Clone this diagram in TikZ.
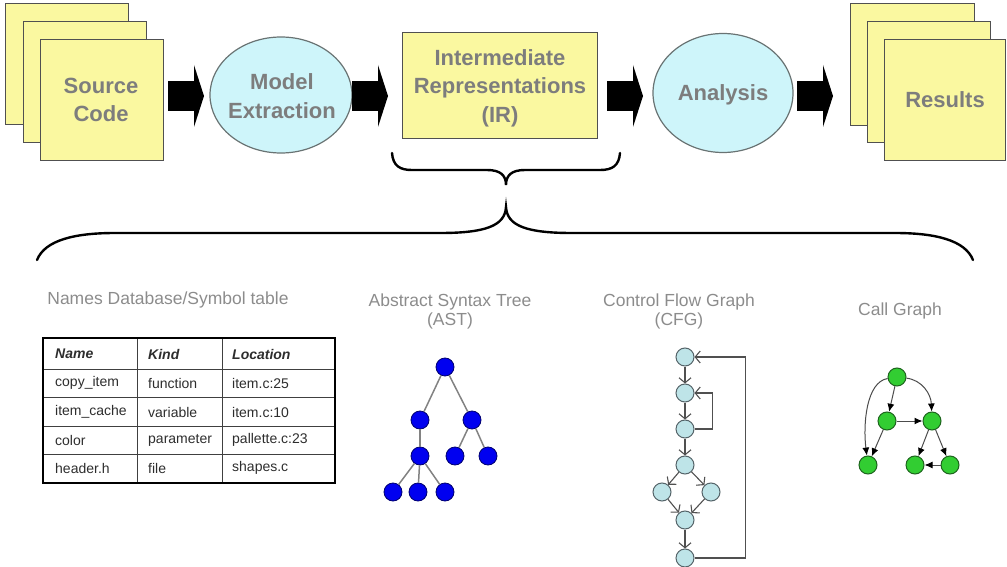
\documentclass[tikz,border=0pt]{standalone}
\usepackage{fontspec}
\setmainfont{Liberation Sans}
\usetikzlibrary{shapes.geometric,arrows.meta}

\definecolor{docfill}{RGB}{250,248,160}
\definecolor{docline}{RGB}{80,80,80}
\definecolor{procfill}{RGB}{206,245,250}
\definecolor{procline}{RGB}{105,115,115}
\definecolor{stagetext}{RGB}{125,125,125}
\definecolor{labeltext}{RGB}{140,140,140}
\definecolor{tabletext}{RGB}{45,45,45}
\definecolor{astfill}{RGB}{0,0,240}
\definecolor{astline}{RGB}{0,0,110}
\definecolor{astedge}{RGB}{130,130,130}
\definecolor{cfgfill}{RGB}{190,228,232}
\definecolor{cfgline}{RGB}{85,100,105}
\definecolor{cfgedge}{RGB}{80,80,80}
\definecolor{cgfill}{RGB}{50,205,50}
\definecolor{cgline}{RGB}{30,100,30}

\begin{document}
\begin{tikzpicture}[x=1pt,y=-1pt,
  doc/.style={draw=docline, fill=docfill, line width=1.4pt, inner sep=0pt,
    anchor=north west, minimum width=123pt, minimum height=121pt},
  proc/.style={ellipse, draw=procline, fill=procfill, line width=1.2pt, inner sep=0pt},
  stage/.style={text=stagetext, font=\fontsize{22}{28.5}\selectfont\bfseries, align=center},
  viewlabel/.style={text=labeltext, font=\fontsize{17.5}{19}\selectfont, align=center},
  cell/.style={text=tabletext, font=\fontsize{14}{15}\selectfont, anchor=west, inner sep=0pt},
  headcell/.style={cell, font=\fontsize{14}{15}\selectfont\bfseries\itshape},
  brace/.style={line width=2.4pt, line cap=round},
  astnode/.style={circle, fill=astfill, draw=astline, line width=0.8pt, minimum size=18pt, inner sep=0pt},
  astlink/.style={draw=astedge, line width=1.5pt},
  cfgnode/.style={circle, fill=cfgfill, draw=cfgline, line width=1pt, minimum size=18pt, inner sep=0pt},
  cfglink/.style={draw=cfgedge, line width=1.1pt, -{Straight Barb[length=5pt,width=12pt]}},
  cgnode/.style={circle, fill=cgfill, draw=cgline, line width=1pt, minimum size=18pt, inner sep=0pt},
  cglink/.style={draw=black!70, line width=1pt, -{Latex[length=8pt,width=7pt,color=black]}},
  blockarrow/.pic={
    \fill[black] (0,-15) rectangle (27,15);
    \fill[black] (26,-31) -- (36,0) -- (26,31) -- cycle;
  }
]
\useasboundingbox (0,0) rectangle (1007,567);

% ---------- pipeline ----------
\node[doc] (src1) at (5,3) {};
\node[doc] (src2) at (23,21) {};
\node[doc] (src3) at (40,39) {};
\node[stage] (srctext) at (101,100) {Source\\Code};

\pic at (168,96) {blockarrow};

\node[proc, minimum width=142pt, minimum height=116pt] (extract) at (281,95) {};
\node[stage] (extracttext) at (282,96) {Model\\Extraction};

\pic at (352,96) {blockarrow};

\node[doc, minimum width=195pt, minimum height=106pt] (ir) at (402,32) {};
\node[stage] (irtext) at (500,88) {Intermediate\\Representations\\(IR)};

\pic at (607,96) {blockarrow};

\node[proc, minimum width=140pt, minimum height=119pt] (analysis) at (723,93) {};
\node[stage] (analysistext) at (723,95) {Analysis};

\pic at (797,96) {blockarrow};

\node[doc, minimum width=124pt, minimum height=122pt] (res1) at (850,3) {};
\node[doc] (res2) at (867,21) {};
\node[doc, minimum width=121pt] (res3) at (884,39) {};
\node[stage] (restext) at (945,100) {Results};

% ---------- braces ----------
\draw[brace] (392,153) .. controls (393,166) and (400,170) .. (412,170)
  -- (487,170) .. controls (500,170) and (506,175) .. (506,185)
  .. controls (506,175) and (512,170) .. (525,170)
  -- (600,170) .. controls (612,170) and (619,166) .. (620,153);

\draw[brace] (37,260) .. controls (45,240) and (75,233) .. (115,233)
  -- (440,233) .. controls (485,233) and (505,226) .. (506,207)
  .. controls (507,226) and (527,233) .. (572,233)
  -- (895,233) .. controls (935,233) and (965,240) .. (973,260);

% ---------- view labels ----------
\node[viewlabel] (symlabel) at (168,300) {Names Database/Symbol table};
\node[viewlabel] (astlabel) at (450,311) {Abstract Syntax Tree\\(AST)};
\node[viewlabel] (cfglabel) at (679,311) {Control Flow Graph\\(CFG)};
\node[viewlabel] (cglabel) at (900,311) {Call Graph};

% ---------- symbol table ----------
\draw[line width=0.8pt, draw=black!75]
  (43,369) -- (335,369) (43,397) -- (335,397) (43,426) -- (335,426) (43,454) -- (335,454)
  (137,338) -- (137,483) (222,338) -- (222,483);
\draw[line width=2.4pt] (43,338) rectangle (335,483);

\node[headcell] (h1) at (55,354) {Name};
\node[headcell] (h2) at (148,354) {Kind};
\node[headcell] (h3) at (232,354) {Location};
\node[cell] (r1a) at (55,383) {copy\_item};
\node[cell] (r1b) at (148,383) {function};
\node[cell] (r1c) at (232,383) {item.c:25};
\node[cell] (r2a) at (55,412) {item\_cache};
\node[cell] (r2b) at (148,412) {variable};
\node[cell] (r2c) at (232,412) {item.c:10};
\node[cell] (r3a) at (55,440) {color};
\node[cell] (r3b) at (148,440) {parameter};
\node[cell] (r3c) at (232,440) {pallette.c:23};
\node[cell] (r4a) at (55,468) {header.h};
\node[cell] (r4b) at (148,468) {file};
\node[cell] (r4c) at (232,468) {shapes.c};

% ---------- abstract syntax tree ----------
\node[astnode] (a0) at (445,367) {};
\node[astnode] (a1) at (420,420) {};
\node[astnode] (a2) at (472,420) {};
\node[astnode] (a3) at (420,456) {};
\node[astnode] (a4) at (455,456) {};
\node[astnode] (a5) at (488,456) {};
\node[astnode] (a6) at (393,492) {};
\node[astnode] (a7) at (418,492) {};
\node[astnode] (a8) at (445,492) {};
\draw[astlink] (a0) -- (a1);
\draw[astlink] (a0) -- (a2);
\draw[astlink] (a1) -- (a3);
\draw[astlink] (a2) -- (a4);
\draw[astlink] (a2) -- (a5);
\draw[astlink] (a3) -- (a6);
\draw[astlink] (a3) -- (a7);
\draw[astlink] (a3) -- (a8);

% ---------- control flow graph ----------
\node[cfgnode] (c1) at (685,357) {};
\node[cfgnode] (c2) at (685,393) {};
\node[cfgnode] (c3) at (685,429) {};
\node[cfgnode] (c4) at (685,465) {};
\node[cfgnode] (c5) at (662,492) {};
\node[cfgnode] (c6) at (711,492) {};
\node[cfgnode] (c7) at (685,520) {};
\node[cfgnode] (c8) at (685,558) {};
\draw[cfglink] (c1) -- (c2);
\draw[cfglink] (c2) -- (c3);
\draw[cfglink] (c3) -- (c4);
\draw[cfglink] (c4) -- (c5);
\draw[cfglink] (c4) -- (c6);
\draw[cfglink] (c5) -- (c7);
\draw[cfglink] (c6) -- (c7);
\draw[cfglink] (c7) -- (c8);
\draw[cfglink] (c3.east) -- ++(18,0) |- (c2.east);
\draw[cfglink] (c8.east) -- ++(51,0) |- (c1.east);

% ---------- call graph ----------
\node[cgnode] (g0) at (897,377) {};
\node[cgnode] (g1) at (887,421) {};
\node[cgnode] (g2) at (932,421) {};
\node[cgnode] (g3) at (868,465) {};
\node[cgnode] (g4) at (915,465) {};
\node[cgnode] (g5) at (950,465) {};
\draw[cglink] (g0) -- (g1);
\draw[cglink] (g0) .. controls (922,380) and (931,394) .. (g2);
\draw[cglink] (g0) .. controls (866,382) and (863,425) .. (g3);
\draw[cglink] (g1) -- (g2);
\draw[cglink] (g1) -- (g3);
\draw[cglink] (g2) -- (g4);
\draw[cglink] (g2) -- (g5);
\draw[cglink] (g5) -- (g4);
\end{tikzpicture}
\end{document}
